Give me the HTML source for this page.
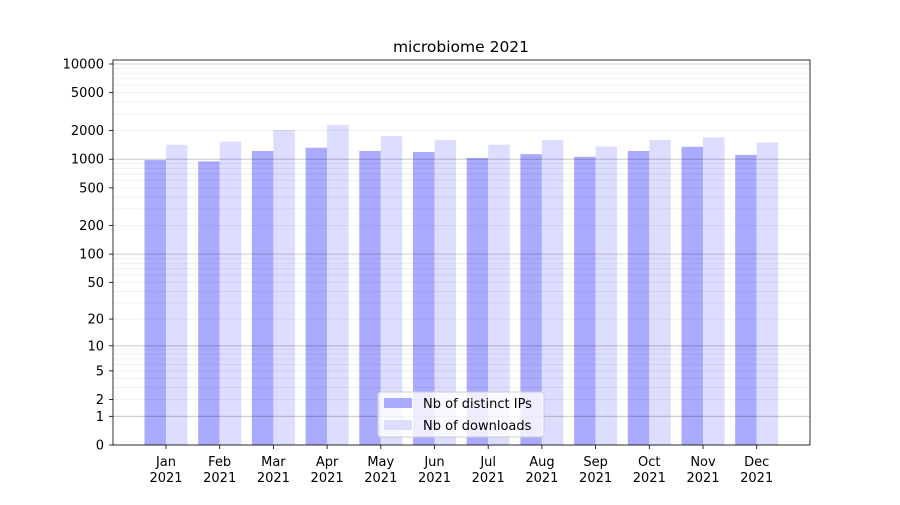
<!DOCTYPE html>
<html><head><meta charset="utf-8"><style>body{margin:0;background:#fff}</style></head>
<body>
<svg id="s" width="900" height="500" xmlns="http://www.w3.org/2000/svg" font-family="DejaVu Sans, Liberation Sans, sans-serif"></svg>
<script>
const s=document.getElementById('s');
const Y=v=>445-95.25*Math.log10(v+1);
let h='<rect width="900" height="500" fill="#fff"/>';
const ips=[980,950,1220,1320,1220,1190,1030,1130,1060,1220,1350,1110];
const dl=[1420,1530,2030,2300,1750,1600,1420,1600,1360,1600,1700,1500];
const m=['Jan','Feb','Mar','Apr','May','Jun','Jul','Aug','Sep','Oct','Nov','Dec'];
for(let i=0;i<12;i++){const c=166+i*53.7;
h+=`<rect x="${c-21.5}" y="${Y(ips[i])}" width="21.5" height="${445-Y(ips[i])}" fill="#aaaaff"/>`;
h+=`<rect x="${c}" y="${Y(dl[i])}" width="21.5" height="${445-Y(dl[i])}" fill="#ddddff"/>`;
h+=`<line x1="${c}" x2="${c}" y1="445" y2="449" stroke="#000" stroke-width="0.8"/><text x="${c}" y="466" font-size="13" text-anchor="middle">${m[i]}</text><text x="${c}" y="482" font-size="13" text-anchor="middle">2021</text>`;}
for(let d=1;d<=1000;d*=10)for(let k=2;k<10;k++){const v=k*d;h+=`<line x1="113" x2="810" y1="${Y(v)}" y2="${Y(v)}" stroke="#000" stroke-opacity="0.07" stroke-width="0.8"/>`;}
[0,1,10,100,1000,10000].forEach(v=>h+=`<line x1="113" x2="810" y1="${Y(v)}" y2="${Y(v)}" stroke="#000" stroke-opacity="0.25" stroke-width="0.8"/>`);
[0,1,2,5,10,20,50,100,200,500,1000,2000,5000,10000].forEach(v=>{const y=Y(v);h+=`<line x1="109" x2="113" y1="${y}" y2="${y}" stroke="#000" stroke-width="0.8"/><text x="104" y="${y+4.5}" font-size="13" text-anchor="end">${v}</text>`;});
h+='<rect x="113" y="60" width="697" height="385" fill="none" stroke="#000" stroke-width="0.8"/>';
h+='<text x="461" y="52" font-size="15.5" text-anchor="middle">microbiome 2021</text>';
h+='<rect x="378" y="392" width="166" height="45" rx="3" fill="#fff" fill-opacity="0.8" stroke="#ccc"/>';
h+='<rect x="384" y="398" width="28" height="10" fill="#aaaaff"/><text x="423" y="408" font-size="13">Nb of distinct IPs</text>';
h+='<rect x="384" y="420" width="28" height="10" fill="#ddddff"/><text x="423" y="430" font-size="13">Nb of downloads</text>';
s.innerHTML=h;
</script>
</body></html>
